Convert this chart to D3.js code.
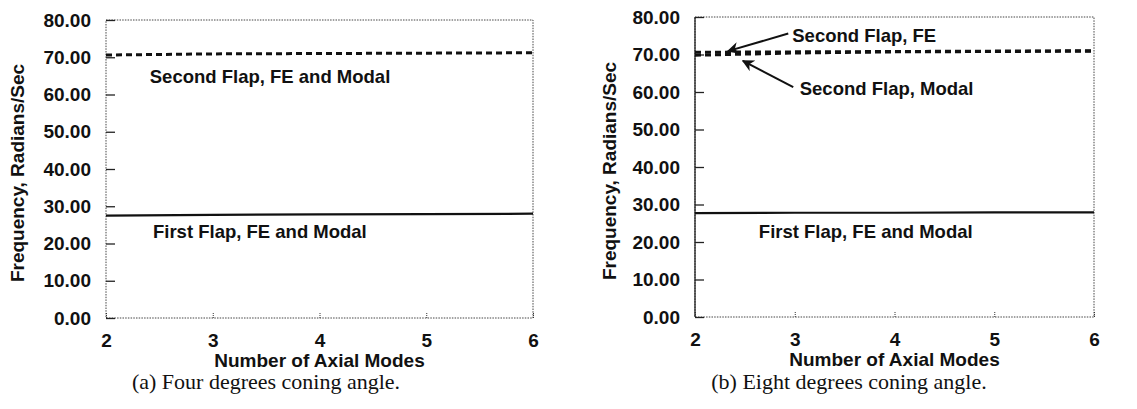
<!DOCTYPE html>
<html>
<head>
<meta charset="utf-8">
<script src="https://cdn.jsdelivr.net/npm/d3@7.9.0/dist/d3.min.js"></script>
<style>
  body { margin: 0; background: #fff; }
  svg { display: block; }
  .tick text { font-family: "Liberation Sans", Arial, sans-serif; font-weight: bold; font-size: 19px; fill: #111; }
  .lbl { font-family: "Liberation Sans", Arial, sans-serif; font-weight: bold; font-size: 18.5px; fill: #111; }
  .ttl { font-family: "Liberation Sans", Arial, sans-serif; font-weight: bold; font-size: 19px; fill: #111; }
  .cap { font-family: "Liberation Serif", "DejaVu Serif", serif; font-size: 22px; fill: #111; }
</style>
</head>
<body>
<svg id="chart" width="1137" height="409"></svg>
<script>
// number of axial modes used
const modes = [2, 3, 4, 5, 6];
const yTicks = [0, 10, 20, 30, 40, 50, 60, 70, 80];

// (a) four degrees coning
const firstFlapA = [27.5, 27.7, 27.8, 27.9, 28.0];
const secondFlapA = [70.6, 70.9, 71.0, 71.1, 71.2];

// (b) eight degrees coning
const firstFlapB = [27.7, 27.8, 27.8, 27.9, 27.9];
const secondFlapFEB = [70.6, 70.7, 70.8, 70.9, 71.0];
const secondFlapModalB = [69.8, 70.4, 70.7, 70.8, 70.9];

const svg = d3.select('#chart');

const defs = svg.append('defs');
defs.append('marker')
  .attr('id', 'arrow')
  .attr('viewBox', '0 0 10 10')
  .attr('refX', 9).attr('refY', 5)
  .attr('markerWidth', 6).attr('markerHeight', 6)
  .attr('markerUnits', 'strokeWidth')
  .attr('orient', 'auto')
  .append('path')
  .attr('d', 'M0,0 L10,5 L0,10 L3,5 Z')
  .attr('fill', '#111');

function drawPanel(cfg) {
  const x = d3.scaleLinear().domain([2, 6]).range([cfg.left, cfg.right]);
  const y = d3.scaleLinear().domain([0, 80]).range([cfg.bottom, cfg.top]);
  const g = svg.append('g');

  // dotted frame
  g.append('rect')
    .attr('x', cfg.left).attr('y', cfg.top)
    .attr('width', cfg.right - cfg.left).attr('height', cfg.bottom - cfg.top)
    .attr('fill', 'none')
    .attr('stroke', '#444')
    .attr('stroke-width', 1)
    .attr('stroke-dasharray', '1.5,1.2');

  if (cfg.solidLeft) {
    g.append('line')
      .attr('x1', cfg.left).attr('x2', cfg.left)
      .attr('y1', cfg.top).attr('y2', cfg.bottom)
      .attr('stroke', '#111').attr('stroke-width', 1.2);
  }

  const yAxis = g.append('g')
    .attr('transform', `translate(${cfg.left},0)`)
    .call(d3.axisLeft(y).tickValues(yTicks).tickFormat(d3.format('.2f'))
      .tickSizeInner(-9).tickSizeOuter(0).tickPadding(15));
  yAxis.select('.domain').remove();
  yAxis.selectAll('.tick line').attr('stroke', '#222').attr('stroke-width', 1.3);

  const xAxis = g.append('g')
    .attr('transform', `translate(0,${cfg.bottom})`)
    .call(d3.axisBottom(x).tickValues(modes).tickFormat(d3.format('d'))
      .tickSizeInner(-5).tickSizeOuter(0).tickPadding(16));
  xAxis.select('.domain').remove();
  xAxis.selectAll('.tick line').attr('stroke', '#333').attr('stroke-dasharray', '1,1');

  const line = d3.line().x((d, i) => x(modes[i])).y(d => y(d));

  cfg.series.forEach(s => {
    g.append('path')
      .datum(s.values)
      .attr('d', line)
      .attr('fill', 'none')
      .attr('stroke', '#111')
      .attr('stroke-width', s.dashed ? 3 : 2.2)
      .attr('stroke-dasharray', s.dashed ? '6,4' : null);
  });

  cfg.labels.forEach(l => {
    g.append('text')
      .attr('class', 'lbl')
      .attr('x', x(l.x)).attr('y', y(l.y))
      .attr('dominant-baseline', 'middle')
      .text(l.text);
  });

  (cfg.arrows || []).forEach(a => {
    g.append('line')
      .attr('x1', x(a.from[0])).attr('y1', y(a.from[1]))
      .attr('x2', x(a.to[0])).attr('y2', y(a.to[1]))
      .attr('stroke', '#111').attr('stroke-width', 2)
      .attr('marker-end', 'url(#arrow)');
  });

  g.append('text')
    .attr('class', 'ttl')
    .attr('text-anchor', 'middle')
    .attr('x', x(4)).attr('y', cfg.bottom + 49)
    .text('Number of Axial Modes');

  g.append('text')
    .attr('class', 'ttl')
    .attr('text-anchor', 'middle')
    .attr('transform', `translate(${cfg.ytitleX},${(cfg.top + cfg.bottom) / 2 + 4}) rotate(-90)`)
    .text('Frequency,  Radians/Sec');

  g.append('text')
    .attr('class', 'cap')
    .attr('text-anchor', 'middle')
    .attr('x', cfg.capX).attr('y', 389)
    .text(cfg.caption);
}

drawPanel({
  left: 106, right: 533, top: 20, bottom: 318, ytitleX: 24, capX: 266, solidLeft: false,
  series: [
    { values: secondFlapA, dashed: true },
    { values: firstFlapA, dashed: false }
  ],
  labels: [
    { text: 'Second Flap, FE and Modal', x: 2.41, y: 64.4 },
    { text: 'First Flap, FE and Modal', x: 2.44, y: 22.8 }
  ],
  caption: '(a) Four degrees coning angle.'
});

drawPanel({
  left: 695, right: 1094, top: 17, bottom: 317, ytitleX: 616, capX: 849, solidLeft: true,
  series: [
    { values: secondFlapFEB, dashed: true },
    { values: secondFlapModalB, dashed: true },
    { values: firstFlapB, dashed: false }
  ],
  labels: [
    { text: 'Second Flap, FE', x: 2.975, y: 74.7 },
    { text: 'Second Flap, Modal', x: 3.05, y: 60.5 },
    { text: 'First Flap, FE and Modal', x: 2.64, y: 22.4 }
  ],
  arrows: [
    { from: [2.935, 75.6], to: [2.33, 70.9] },
    { from: [2.985, 61.3], to: [2.48, 68.3] }
  ],
  caption: '(b) Eight degrees coning angle.'
});
</script>
</body>
</html>
